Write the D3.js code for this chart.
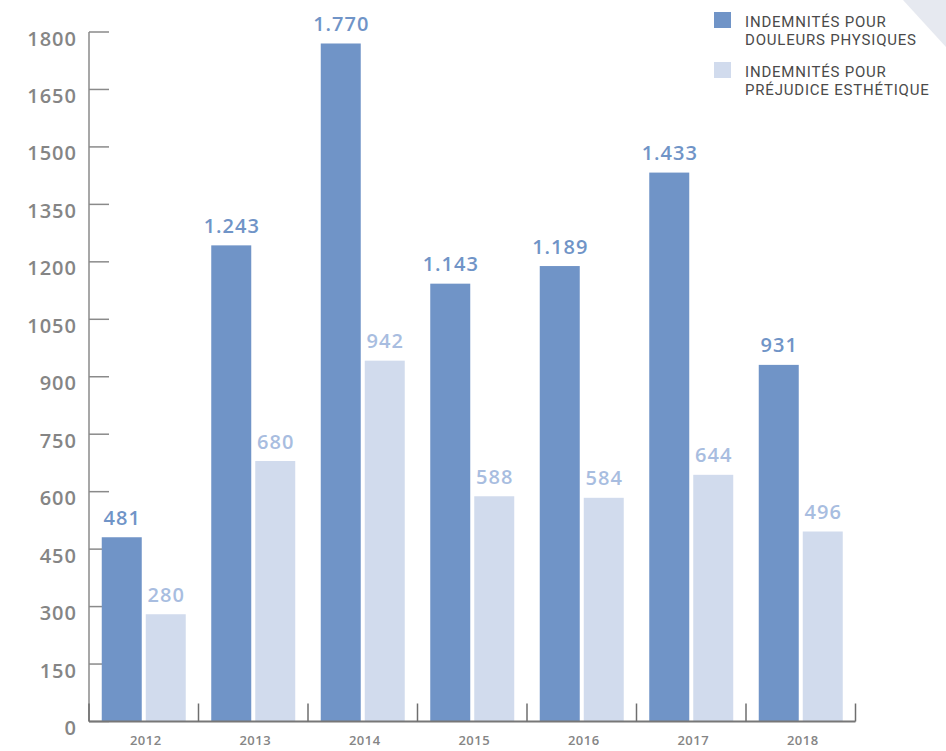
<!DOCTYPE html>
<html><head><meta charset="utf-8">
<script src="https://cdn.jsdelivr.net/npm/d3@7"></script>
<style>body{margin:0;background:#fff;}svg{display:block;font-family:"Open Sans",sans-serif;}</style>
</head><body>
<svg id="c" width="946" height="751"></svg>
<script>
const years = ["2012","2013","2014","2015","2016","2017","2018"];
const douleurs = [481,1243,1770,1143,1189,1433,931];
const esthetique = [280,680,942,588,584,644,496];
const yTicks = [0,150,300,450,600,750,900,1050,1200,1350,1500,1650,1800];
const legendLabels = [["INDEMNITÉS POUR","DOULEURS PHYSIQUES"],["INDEMNITÉS POUR","PRÉJUDICE ESTHÉTIQUE"]];
const colors = ["#7094c7","#d1dbed"];
const labelColors = ["#7094c7","#a8bde0"];

const svg = d3.select("#c");
const mLeft = 89, mRight = 855.5, mTop = 32, mBottom = 721.5;
const y = d3.scaleLinear().domain([0,1800]).range([mBottom, mTop]);
const x = d3.scaleBand().domain(years).range([mLeft, mRight]).padding(0);

// corner triangle
svg.append("path").attr("d","M903,0L946,0L946,47Z").attr("fill","#e6e9f0");

// y ticks (under bars)
const gy = svg.append("g");
gy.selectAll("line.t").data(yTicks).join("line")
  .attr("x1", mLeft).attr("x2", mLeft+20).attr("y1", d=>y(d)).attr("y2", d=>y(d))
  .attr("stroke","#8a8a8a").attr("stroke-width",1.5);
gy.selectAll("text").data(yTicks).join("text")
  .attr("x", 77).attr("y", d=>y(d)+6.5).attr("dy","0.35em").attr("text-anchor","end")
  .attr("font-size",20).attr("font-weight",600).attr("letter-spacing",1).attr("fill","#858585").text(d=>d);
gy.append("line").attr("x1",mLeft).attr("x2",mLeft).attr("y1",mTop).attr("y2",mBottom)
  .attr("stroke","#8a8a8a").attr("stroke-width",1.5);

// bars
const bw = 40, gap = 4;
const series = [douleurs, esthetique];
const bars = svg.append("g");
series.forEach((vals, si) => {
  const off = x.bandwidth()/2 - (bw*2+gap)/2 + si*(bw+gap);
  bars.selectAll(null).data(vals).join("rect")
    .attr("x",(d,i)=>x(years[i])+off).attr("width",bw)
    .attr("y",d=>y(d)).attr("height",d=>mBottom-y(d)).attr("fill",colors[si]);
  bars.selectAll(null).data(vals).join("text")
    .attr("x",(d,i)=>x(years[i])+off+bw/2+0.5).attr("y",d=>y(d)-12.5)
    .attr("text-anchor","middle").attr("font-size",20).attr("font-weight",600)
    .attr("letter-spacing",1).attr("fill",labelColors[si]).text(d=>d3.format(",")(d).replace(/,/g,"."));
});

// x axis
const gx = svg.append("g");
gx.append("line").attr("x1",mLeft).attr("x2",mRight).attr("y1",mBottom).attr("y2",mBottom)
  .attr("stroke","#777").attr("stroke-width",2);
const bounds = years.map(d=>x(d)).concat([mRight]);
gx.selectAll("line.b").data(bounds).join("line")
  .attr("x1",d=>d).attr("x2",d=>d).attr("y1",mBottom).attr("y2",mBottom-18)
  .attr("stroke","#6e6e6e").attr("stroke-width",1.5);
gx.selectAll("text").data(years).join("text")
  .attr("x",d=>x(d)+x.bandwidth()/2+2).attr("y",745).attr("text-anchor","middle")
  .attr("font-size",13).attr("font-weight",600).attr("letter-spacing",0.5).attr("fill","#858585").text(d=>d);

// legend
const lg = svg.append("g");
legendLabels.forEach((lines, i) => {
  const y0 = 12 + i*50;
  lg.append("rect").attr("x",714).attr("y",y0).attr("width",17).attr("height",16).attr("fill",colors[i]);
  lines.forEach((s, j) => {
    lg.append("text").attr("x",745).attr("y",y0+15+j*18).attr("font-size",15)
      .style("font-family","Roboto, sans-serif")
      .attr("fill","#4a4a4a").attr("letter-spacing",0.8).text(s);
  });
});
</script>
</body></html>
